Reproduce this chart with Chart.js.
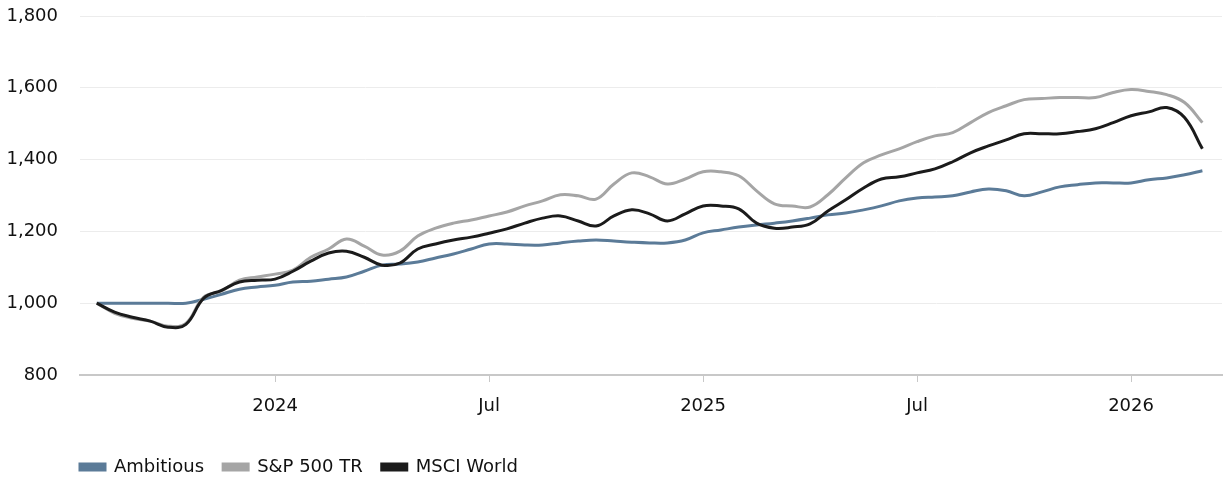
<!DOCTYPE html>
<html>
<head>
<meta charset="utf-8">
<script src="https://cdn.jsdelivr.net/npm/chart.js@4/dist/chart.umd.min.js"></script>
<style>
  html, body { margin: 0; padding: 0; background: #fff; }
  #wrap { width: 1230px; height: 480px; }
</style>
</head>
<body>
<div id="wrap"><canvas id="perf-chart" width="1230" height="480"></canvas></div>
<script>
// half-monthly observations, Aug 2023 - Mar 2026
const dates = [
  '2023-08-01','2023-08-16','2023-09-01','2023-09-16','2023-10-01','2023-10-16',
  '2023-11-01','2023-11-16','2023-12-01','2023-12-16','2024-01-01','2024-01-16',
  '2024-02-01','2024-02-16','2024-03-01','2024-03-16','2024-04-01','2024-04-16',
  '2024-05-01','2024-05-16','2024-06-01','2024-06-16','2024-07-01','2024-07-16',
  '2024-08-01','2024-08-16','2024-09-01','2024-09-16','2024-10-01','2024-10-16',
  '2024-11-01','2024-11-16','2024-12-01','2024-12-16','2025-01-01','2025-01-16',
  '2025-02-01','2025-02-16','2025-03-01','2025-03-16','2025-04-01','2025-04-16',
  '2025-05-01','2025-05-16','2025-06-01','2025-06-16','2025-07-01','2025-07-16',
  '2025-08-01','2025-08-16','2025-09-01','2025-09-16','2025-10-01','2025-10-16',
  '2025-11-01','2025-11-16','2025-12-01','2025-12-16','2026-01-01','2026-01-16',
  '2026-02-01','2026-02-16','2026-03-01'
];

const ambitious = [
  1000, 1000, 1000, 1000, 1000, 1000, 1011, 1025, 1039, 1045, 1050, 1059,
  1061, 1067, 1073, 1089, 1106, 1109, 1115, 1126, 1137, 1151, 1165, 1165,
  1162, 1162, 1168, 1173, 1176, 1173, 1170, 1168, 1168, 1176, 1196, 1204,
  1212, 1218, 1223, 1229, 1237, 1246, 1251, 1260, 1271, 1285, 1293, 1296,
  1299, 1310, 1318, 1313, 1299, 1310, 1324, 1330, 1335, 1335, 1335, 1344,
  1349, 1358, 1369
];

const sp500 = [
  1000, 972, 958, 950, 936, 944, 1017, 1034, 1064, 1073, 1081, 1092,
  1128, 1151, 1179, 1159, 1134, 1145, 1187, 1209, 1223, 1232, 1243, 1254,
  1271, 1285, 1302, 1299, 1290, 1332, 1363, 1352, 1332, 1346, 1366, 1366,
  1355, 1313, 1277, 1271, 1268, 1302, 1349, 1391, 1413, 1430, 1450, 1466,
  1475, 1503, 1531, 1550, 1567, 1570, 1573, 1573, 1573, 1587, 1595, 1590,
  1581, 1559, 1503
];

const msciWorld = [
  1000, 975, 961, 950, 933, 941, 1014, 1036, 1059, 1064, 1067, 1089,
  1117, 1140, 1145, 1128, 1106, 1112, 1151, 1165, 1176, 1184, 1195, 1207,
  1223, 1237, 1243, 1229, 1215, 1243, 1260, 1249, 1229, 1249, 1271, 1271,
  1263, 1223, 1209, 1212, 1221, 1257, 1288, 1321, 1346, 1352, 1363, 1374,
  1394, 1419, 1438, 1455, 1472, 1472, 1472, 1478, 1486, 1503, 1522, 1533,
  1545, 1517, 1430
];

const tickMonths = [0, 6, 12, 18, 24];
const tickLabels = ['2024', 'Jul', '2025', 'Jul', '2026'];

// months relative to Jan 2024
function toMonth(d) {
  const [y, m, day] = d.split('-').map(Number);
  return (y - 2024) * 12 + (m - 1) + (day - 1) / 30;
}

function series(values) {
  return values.map((v, i) => ({ x: toMonth(dates[i]), y: v }));
}

// legend starts in line with the plot area and sits a bit lower
const legendShift = {
  id: 'legendShift',
  afterLayout(chart) {
    chart.legend.left = chart.chartArea.left - 19;
    chart.legend.top += 6;
  }
};

const font = { family: '"DejaVu Sans", Verdana, sans-serif', size: 18 };

new Chart(document.getElementById('perf-chart'), {
  type: 'line',
  data: {
    datasets: [
      { label: 'Ambitious', data: series(ambitious), borderColor: '#5b7b98', backgroundColor: '#5b7b98', order: 2 },
      { label: 'S&P 500 TR', data: series(sp500), borderColor: '#a5a5a5', backgroundColor: '#a5a5a5', order: 1 },
      { label: 'MSCI World', data: series(msciWorld), borderColor: '#1b1b1b', backgroundColor: '#1b1b1b', order: 0 }
    ]
  },
  options: {
    responsive: false,
    animation: false,
    devicePixelRatio: 1,
    layout: { padding: { top: 16, right: 8, left: 0, bottom: 0 } },
    elements: {
      line: { borderWidth: 3, tension: 0.4, fill: false },
      point: { radius: 0 }
    },
    scales: {
      x: {
        type: 'linear',
        min: -5.47,
        max: 26.55,
        afterBuildTicks(scale) {
          scale.ticks = tickMonths.map(v => ({ value: v }));
        },
        afterFit(scale) {
          scale.height = 58;
        },
        ticks: {
          color: '#111',
          font: font,
          padding: 14,
          maxRotation: 0,
          callback: (v) => tickLabels[tickMonths.indexOf(v)]
        },
        grid: { drawOnChartArea: false, drawTicks: true, tickLength: 7, color: '#c8c8c8' },
        border: { display: true, color: '#c8c8c8', width: 2 }
      },
      y: {
        min: 800,
        max: 1800,
        afterFit(scale) {
          scale.width = 80;
          scale.paddingTop = 0;
          scale.paddingBottom = 0;
        },
        ticks: {
          stepSize: 200,
          color: '#111',
          font: font,
          padding: 22,
          callback: (v) => v.toLocaleString('en-US')
        },
        grid: { color: '#ececec', drawTicks: false },
        border: { display: false }
      }
    },
    plugins: {
      tooltip: { enabled: false },
      legend: {
        position: 'bottom',
        align: 'start',
        labels: {
          color: '#111',
          font: font,
          boxWidth: 25,
          boxHeight: 6,
          padding: 19,
          sort: (a, b) => a.datasetIndex - b.datasetIndex
        }
      }
    }
  },
  plugins: [legendShift]
});
</script>
</body>
</html>
